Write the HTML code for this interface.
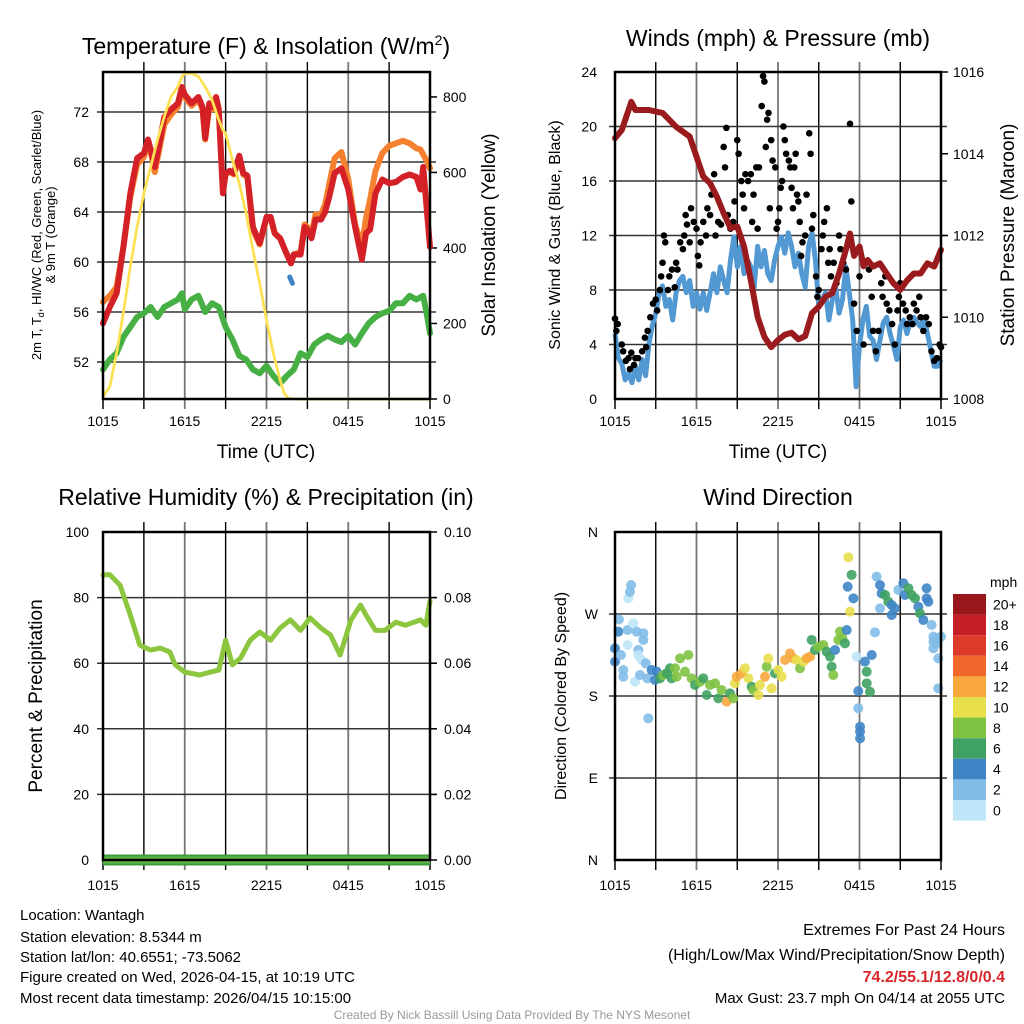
<!DOCTYPE html>
<html><head><meta charset="utf-8">
<style>
html,body{margin:0;padding:0;background:#fff;}
body{width:1024px;height:1024px;overflow:hidden;position:relative;font-family:"Liberation Sans",sans-serif;}
svg{position:absolute;left:0;top:0;}
</style></head>
<body>
<svg id="chart" width="1024" height="1024" viewBox="0 0 1024 1024" xmlns="http://www.w3.org/2000/svg" font-family="Liberation Sans, sans-serif">
<text x="266" y="54" font-size="23" text-anchor="middle">Temperature (F) &amp; Insolation (W/m<tspan dy="-9" font-size="14">2</tspan><tspan dy="9">)</tspan></text>
<text x="778" y="46" font-size="23" text-anchor="middle">Winds (mph) &amp; Pressure (mb)</text>
<text x="266" y="505" font-size="23" text-anchor="middle">Relative Humidity (%) &amp; Precipitation (in)</text>
<text x="778" y="505" font-size="23" text-anchor="middle">Wind Direction</text>

<text x="266" y="458" font-size="19" text-anchor="middle">Time (UTC)</text>
<text x="778" y="458" font-size="19" text-anchor="middle">Time (UTC)</text>

<g font-size="13" text-anchor="middle">
<text transform="translate(41,235) rotate(-90)">2m T, T<tspan dy="3" font-size="9">d</tspan><tspan dy="-3">, HI/WC (Red, Green, Scarlet/Blue)</tspan></text>
<text transform="translate(55,235) rotate(-90)">&amp; 9m T (Orange)</text>
</g>
<text transform="translate(495,235) rotate(-90)" font-size="19" text-anchor="middle">Solar Insolation (Yellow)</text>
<text transform="translate(560,235) rotate(-90)" font-size="16" text-anchor="middle">Sonic Wind &amp; Gust (Blue, Black)</text>
<text transform="translate(1014,235) rotate(-90)" font-size="19" text-anchor="middle">Station Pressure (Maroon)</text>
<text transform="translate(42,696) rotate(-90)" font-size="19" text-anchor="middle">Percent &amp; Precipitation</text>
<text transform="translate(566,696) rotate(-90)" font-size="16" text-anchor="middle">Direction (Colored By Speed)</text>

<g font-size="15">
<text x="20" y="920">Location: Wantagh</text>
<text x="20" y="942">Station elevation: 8.5344 m</text>
<text x="20" y="962">Station lat/lon: 40.6551; -73.5062</text>
<text x="20" y="982">Figure created on Wed, 2026-04-15, at 10:19 UTC</text>
<text x="20" y="1003">Most recent data timestamp: 2026/04/15 10:15:00</text>
</g>
<g font-size="16" text-anchor="end">
<text x="1005" y="935">Extremes For Past 24 Hours</text>
<text x="1005" y="960">(High/Low/Max Wind/Precipitation/Snow Depth)</text>
<text x="1005" y="982" fill="#d7262b" font-weight="bold">74.2/55.1/12.8/0/0.4</text>
<text x="1005" y="1003" font-size="15">Max Gust: 23.7 mph On 04/14 at 2055 UTC</text>
</g>
<text x="512" y="1019" font-size="12" fill="#999" text-anchor="middle">Created By Nick Bassill Using Data Provided By The NYS Mesonet</text>
</svg>
<script>
// ---------- data ----------
const xTickLabels = ["1015","1615","2215","0415","1015"];
const tempHours = [0,0.5,1,1.5,2,2.5,3,3.3,3.5,3.8,4,4.5,5,5.5,5.8,6,6.5,7,7.3,7.5,7.8,8,8.3,8.5,8.8,9,9.3,9.6,10,10.3,10.6,11,11.5,12,12.3,12.6,13,13.5,13.8,14,14.5,14.8,15,15.3,15.6,16,16.3,16.6,17,17.5,18,18.5,19,19.3,19.6,20,20.5,21,21.5,22,22.5,23,23.3,23.5,23.8,24];
const tempRed = [55.1,56.4,57.5,61.2,65.5,68.3,68.7,69.8,69,67.6,68.7,71.6,72.2,72.7,74,73.4,72.7,73.2,72.4,69.9,72.7,72.4,73.2,72.2,65.5,67.1,67.3,67.1,68.5,67.1,66.9,62.8,61.5,63.6,63.6,62.3,61.9,60.6,59.9,60.6,60.6,62.8,62.6,61.9,63.4,63.4,64,65.2,67.1,67.5,65.8,62.8,60.2,62.3,62.6,65.5,66.6,66.3,66.4,66.8,67,66.8,65.8,67.6,63.7,61.2];
const tempOrange = [56.8,57.3,58,61.2,65.2,67.8,68.4,69.5,68.8,67.2,68.3,71.0,71.8,72.4,73.8,73.2,72.5,73.0,72.2,69.8,72.4,72.2,73.0,72.0,65.8,67.0,67.2,67.0,68.3,67.0,66.8,62.6,61.4,63.5,63.6,62.3,61.9,60.6,59.9,60.6,60.8,63.0,62.8,62.2,63.8,63.8,64.6,66.2,68.3,68.8,66.6,63.0,61.3,63.5,65.0,67.3,68.7,69.3,69.5,69.7,69.5,69.1,69.0,68.6,68.0,67.5];
const dewHours = [0,0.5,1,1.5,2,2.5,3,3.5,4,4.5,5,5.5,5.8,6,6.5,7,7.5,8,8.5,9,9.5,10,10.5,11,11.5,12,12.5,13,13.5,14,14.5,15,15.5,16,16.5,17,17.5,18,18.5,19,19.5,20,20.5,21,21.5,22,22.5,23,23.5,23.8,24];
const dewValues = [51.4,52.2,52.7,54,54.8,55.6,55.9,56.4,55.6,56.4,56.7,57,57.5,56.2,57,57.3,56,56.7,56.4,54.8,53.8,52.5,52.2,51.4,51.1,51.7,50.9,50.3,50.9,51.4,52.7,52.4,53.4,53.8,54.1,53.8,53.6,54.1,53.4,54.3,55.1,55.6,55.9,56.1,56.7,56.7,57.3,57,57.3,55.6,54.3];
const heatHours = [13.7,13.9];
const heatValues = [58.8,58.3];
const solarHours = [0,0.5,1,1.5,2,2.5,3,3.5,4,4.5,5,5.5,5.8,6,6.5,7,7.5,8,8.5,8.8,9,9.5,10,10.5,11,11.5,12,12.5,13,13.3,13.6,14,16,18,20,22,24];
const solarValues = [6,33,121,228,350,456,545,615,686,748,801,827,854,863,862,854,827,792,739,712,703,633,571,492,395,306,209,121,50,15,2,0,0,0,0,0,0];
const tempTicks = [52,56,60,64,68,72];
const solarTicks = [0,200,400,600,800];

const pressHours = [0,0.5,1,1.2,1.5,2,2.5,3,3.5,4,4.5,5,5.5,6,6.5,7,7.5,8,8.5,9,9.5,10,10.5,11,11.5,12,12.5,13,13.5,14,14.5,15,15.5,16,16.5,17,17.3,17.6,18,18.3,18.6,19,19.5,20,20.5,21,21.5,22,22.5,23,23.5,24];
const pressValues = [1014.38,1014.58,1015.07,1015.27,1015.07,1015.07,1015.07,1015.03,1015.0,1014.83,1014.66,1014.54,1014.42,1013.93,1013.44,1013.28,1012.95,1012.54,1012.18,1012.22,1011.73,1010.91,1010.01,1009.52,1009.27,1009.44,1009.57,1009.62,1009.46,1009.54,1010.1,1010.26,1010.5,1010.59,1011.07,1011.65,1012.05,1011.5,1011.73,1011.25,1011.4,1011.24,1011.32,1011.07,1010.83,1010.67,1010.9,1011.07,1011.07,1011.32,1011.24,1011.65];
const windHours = [0,0.25,0.5,0.75,1,1.25,1.5,1.75,2,2.25,2.5,2.75,3,3.25,3.5,3.75,4,4.25,4.5,4.75,5,5.25,5.5,5.75,6,6.25,6.5,6.75,7,7.25,7.5,7.75,8,8.25,8.5,8.75,9,9.25,9.5,9.75,10,10.25,10.5,10.75,11,11.25,11.5,11.75,12,12.25,12.5,12.75,13,13.25,13.5,13.75,14,14.25,14.5,14.75,15,15.25,15.5,15.75,16,16.25,16.5,16.75,17,17.25,17.5,17.75,18,18.25,18.5,18.75,19,19.25,19.5,19.75,20,20.25,20.5,20.75,21,21.25,21.5,21.75,22,22.25,22.5,22.75,23,23.25,23.5,23.75,24];
const windValues = [4.8,3.0,2.6,1.4,1.9,1.2,2.4,1.4,2.9,1.7,4.1,5.4,6.3,7.8,8.3,6.8,7.3,5.8,7.8,8.7,9.0,7.8,8.7,6.8,7.8,6.6,7.8,6.5,7.8,9.2,7.8,9.7,8.7,7.8,10.2,11.9,9.7,11.2,9.2,10.2,9.7,8.2,11.2,9.7,10.9,9.2,8.7,10.2,11.2,11.9,10.7,12.2,11.2,9.7,10.7,9.2,8.2,11.2,12.2,10.2,6.8,7.3,7.8,5.8,7.3,8.2,6.3,7.3,9.7,7.8,5.8,0.9,3.9,5.8,6.8,4.6,4.3,2.9,4.3,5.6,6.0,4.8,3.9,2.9,5.3,5.8,4.8,5.8,6.0,5.6,5.3,6.0,4.8,3.6,2.4,2.4,2.9];
const gustHours = [0,0.1,0.2,0.5,0.6,0.8,1,1.1,1.2,1.4,1.5,1.7,2,2.2,2.3,2.4,2.6,2.8,3,3.1,3.3,3.4,3.5,3.6,3.7,3.9,4,4.2,4.4,4.5,4.6,4.8,5,5.1,5.2,5.3,5.5,5.6,5.8,6,6.1,6.2,6.3,6.5,6.7,6.8,7,7.1,7.3,7.4,7.6,7.8,8,8.1,8.2,8.3,8.5,8.7,8.8,9,9.1,9.3,9.4,9.5,9.6,9.8,10,10.1,10.2,10.4,10.5,10.6,10.8,10.9,11,11.1,11.2,11.3,11.4,11.5,11.6,11.8,11.9,12,12.1,12.2,12.3,12.4,12.5,12.6,12.8,12.9,13,13.1,13.2,13.3,13.4,13.5,13.6,13.7,13.8,14,14.1,14.3,14.4,14.5,14.6,14.8,14.9,15,15.2,15.3,15.4,15.6,15.7,15.8,15.9,16.1,16.3,16.5,16.6,16.8,17,17.3,17.4,17.6,17.8,18,18.3,18.5,18.7,18.9,19,19.2,19.4,19.6,19.7,19.9,20,20.2,20.4,20.6,20.8,20.9,21,21.2,21.4,21.5,21.7,21.9,22,22.2,22.4,22.5,22.7,22.9,23.1,23.3,23.5,23.7,23.9,24];
const gustValues = [5.9,5.0,5.5,4.0,3.5,2.8,3.0,2.2,3.4,2.5,3.0,3.0,3.5,4.5,3.8,5.0,6.0,7.0,7.3,6.5,8.0,9.0,10.0,12.0,11.5,8.0,9.0,9.5,8.2,10.0,9.5,11.5,11.0,12.0,13.5,12.8,11.5,14.0,13.0,12.5,10.5,9.8,11.5,13.0,12.0,14.0,13.5,15.0,16.5,12.0,13.0,12.8,18.5,17.0,19.9,13.5,12.5,13.0,14.5,19.0,18.0,16.0,15.0,14.0,16.5,16.0,16.5,13.0,15.0,17.0,12.5,17.0,21.5,23.7,23.3,18.5,20.5,21.0,14.0,19.0,17.5,17.0,12.5,13.0,14.0,15.5,16.0,20.0,19.0,18.0,17.5,17.0,15.5,14.0,17.0,18.0,15.0,14.5,13.0,10.5,11.5,12.0,15.0,19.5,18.0,12.5,13.5,9.0,7.5,8.0,11.0,12.0,13.0,14.0,10.0,11.0,9.0,10.0,8.5,12.0,11.0,10.0,9.5,20.2,14.5,7.0,5.0,9.0,4.0,10.0,9.5,7.5,5.0,3.5,5.0,8.5,7.5,9.0,7.0,6.5,5.5,4.0,6.5,7.5,8.5,7.0,6.5,5.5,6.0,5.5,7.0,6.5,7.5,6.0,5.0,6.0,5.5,3.5,2.8,3.0,4.0,3.8];
const windTicks = [0,4,8,12,16,20,24];
const pressTicks = [1008,1010,1012,1014,1016];

const rhHours = [0,0.5,1.25,2,2.7,3.5,4.2,4.9,5.3,6,7.1,7.9,8.5,9,9.5,10.1,10.8,11.5,12.3,13,13.75,14.5,15.2,16,16.7,17.4,18.2,18.9,19.3,20,20.7,21.5,22.2,23.3,23.7,24];
const rhValues = [86.9,87,83.8,74.7,65.5,64,64.6,63.4,59.5,57.3,56.4,57.3,57.9,67,59.5,61.6,67,69.5,67,70.7,73.2,70,73.8,70.7,68.6,62.5,73.2,77.7,74.7,70,70,72.5,71.6,73.2,71.6,79];
const precipHours = [0,24];
const precipValues = [0,0];
const rhTicks = [0,20,40,60,80,100];
const precipTicks = ["0.00","0.02","0.04","0.06","0.08","0.10"];

const dirHours = [0,0,0.25,0.29,0.44,0.61,0.61,0.93,0.93,0.98,1.18,1.1,1.35,1.47,1.6,1.72,1.72,1.84,1.96,2.09,2.09,2.26,2.4,2.45,2.7,2.94,3.07,3.31,3.56,3.8,4.05,4.17,4.42,4.54,4.79,5.15,5.4,5.64,5.89,6.26,6.5,6.75,6.99,7.36,7.61,7.85,8.22,8.47,8.71,8.83,8.96,9.33,9.57,9.82,10.06,10.18,10.55,10.67,11.04,11.17,11.29,11.53,11.78,12.02,12.27,12.52,12.88,13.13,13.37,13.62,13.87,14.11,14.36,14.48,14.72,14.97,15.34,15.58,15.83,15.95,16.07,16.2,16.44,16.56,16.74,16.93,17.06,17.18,17.3,17.42,17.13,17.55,17.79,17.91,17.91,18.04,18.04,18.04,18.4,18.53,18.53,18.77,18.9,19.14,19.26,19.51,19.51,19.63,19.88,20.12,20.37,20.37,20.61,20.86,21.23,21.35,21.6,21.84,22.09,22.33,22.45,22.7,22.94,22.94,23.07,23.31,23.44,23.44,23.44,23.68,23.68,23.8,23.8,24];
const dirValues = [232.3,217.7,250.6,264.1,225,208.5,201.2,236,252.4,287.2,301.8,294.5,259.8,195.7,250.6,230.5,225,203,219.5,241.5,248.8,215.9,199.4,155.5,208.5,197.6,206.7,199.4,203,204.9,210.4,199.4,210.4,201.2,221.3,206.7,225,199.4,192.1,195.7,199.4,181.1,192.1,193.9,177.4,186.6,173.8,182.9,177.4,193.9,201.2,204.9,210.4,199.4,190.2,186.6,181.1,192.1,201.2,212.2,221.3,188.4,204.9,208.5,201.2,219.5,226.8,221.3,219.5,210.4,217.7,221.3,223.2,241.5,230.5,234.2,236,228.7,223.2,212.2,203,230.5,241.5,250.6,243.3,237.8,252.4,332.2,272.6,313,300,287.2,223.2,185.5,166.5,146.3,133.5,140.9,217.7,206.7,193.9,184.7,225,249.9,311,301.8,276.2,292.7,290.9,283.5,279.9,268.9,276.2,296.4,303.7,290.9,298.2,290.9,287.2,278,270.7,263.4,298.2,287.2,283.5,258,245.1,239.6,232.3,243.3,237.8,188.4,221.3,245.1];
const dirSpeeds = [5,5,5,3,3,3,3,1,3,1,3,3,1,1,3,3,1,3,1,3,3,3,3,3,5,5,5,7,9,7,7,7,9,9,9,9,9,9,7,9,7,7,9,9,7,9,13,7,9,11,13,13,11,11,7,9,11,11,13,9,11,11,7,11,11,13,13,13,11,9,11,13,13,7,7,9,9,7,7,7,9,5,9,9,9,7,5,11,11,7,5,5,1,5,3,5,5,5,5,7,7,7,5,3,3,5,3,5,7,7,5,5,5,3,5,5,7,7,7,5,7,5,5,5,5,3,3,3,3,3,3,3,3,3];
const dirTickLabels = ["N","E","S","W","N"];
const speedBinLabels = ["0","2","4","6","8","10","12","14","16","18","20+"];
const speedBinColors = ["#bfe6f8","#82bde8","#3f86c7","#3fa262","#7fc241","#e8df4d","#f8a83d","#f0682c","#dd3b2a","#c41e26","#99161a"];

// ---------- drawing ----------
const NS = "http://www.w3.org/2000/svg";
const svg = document.getElementById("chart");
function el(tag, attrs, parent) {
  const e = document.createElementNS(NS, tag);
  for (const k in attrs) e.setAttribute(k, attrs[k]);
  (parent || svg).appendChild(e);
  return e;
}
function txt(s, attrs, parent) { const t = el("text", attrs, parent); t.textContent = s; return t; }

const panels = {
  temp: {x0:103, x1:430, y0:72, y1:399},
  wind: {x0:615, x1:941, y0:72, y1:399},
  rh:   {x0:103, x1:430, y0:532, y1:860},
  dir:  {x0:615, x1:941, y0:532, y1:860}
};
function xScale(p) { return h => p.x0 + h * (p.x1 - p.x0) / 24; }
function linScale(p, lo, hi) { return v => p.y1 - (v - lo) * (p.y1 - p.y0) / (hi - lo); }

const xT = xScale(panels.temp), xW = xScale(panels.wind), xR = xScale(panels.rh), xD = xScale(panels.dir);
const yTemp = linScale(panels.temp, 49.04, 75.2);
const ySolar = linScale(panels.temp, 0, 866);
const yWind = linScale(panels.wind, 0, 24);
const yPress = linScale(panels.wind, 1008, 1016);
const yRH = linScale(panels.rh, 0, 100);
const yPrecip = linScale(panels.rh, 0, 0.1);
const yDir = linScale(panels.dir, 0, 360);

function frame(p, name, hLines) {
  const g = el("g", {});
  
  
  for (let i = 1; i < 8; i++) {
    const x = p.x0 + i * (p.x1 - p.x0) / 8;
    el("line", {x1:x, x2:x, y1:p.y0 - 10, y2:p.y1 + 10, stroke:(i % 2 ? "#000" : "#777"), "stroke-width":(i % 2 ? 1.4 : 1.8)}, g);
  }
  hLines.forEach(y => el("line", {x1:p.x0 - 6, x2:p.x1 + 6, y1:y, y2:y, stroke:"#333", "stroke-width":1.5}, g));
  [p.x0, p.x1].forEach(x => el("line", {x1:x, x2:x, y1:p.y1, y2:p.y1 + 10, stroke:"#000", "stroke-width":1.5}, g));
  return g;
}
function border(p, name) {
  const r = el("rect", {x:p.x0, y:p.y0, width:p.x1 - p.x0, height:p.y1 - p.y0, fill:"none", stroke:"#000", "stroke-width":2.5});
  
  
}
function xLabels(p, xs, y, name) {
  const g = el("g", {"font-size":14, "text-anchor":"middle"});
  
  
  xTickLabels.forEach((s, i) => txt(s, {x:xs(i * 6), y:y}, g));
}
function linePath(xs, ys, hours, vals) {
  return hours.map((h, i) => (i ? "L" : "M") + xs(h).toFixed(1) + "," + ys(vals[i]).toFixed(1)).join("");
}

// ---- panel 1 ----
frame(panels.temp, "temp", tempTicks.map(yTemp));
{
  const g = el("g", {"font-size":14, "text-anchor":"end"});
  
  
  tempTicks.forEach(v => txt(String(v), {x:89, y:yTemp(v) + 5}, g));
  const g2 = el("g", {"font-size":14, "text-anchor":"start"});
  
  
  solarTicks.forEach(v => { txt(String(v), {x:443, y:ySolar(v) + 5}, g2); el("line", {x1:430, x2:437, y1:ySolar(v), y2:ySolar(v), stroke:"#000", "stroke-width":1.5}, g2); });
}
const dewLine = el("path", {d:linePath(xT, yTemp, dewHours, dewValues), fill:"none", stroke:"#47b045", "stroke-width":6, "stroke-linejoin":"round", "stroke-linecap":"round"});


const orangeLine = el("path", {d:linePath(xT, yTemp, tempHours, tempOrange), fill:"none", stroke:"#f58130", "stroke-width":6, "stroke-linejoin":"round", "stroke-linecap":"round"});


const redLine = el("path", {d:linePath(xT, yTemp, tempHours, tempRed), fill:"none", stroke:"#d42027", "stroke-width":6, "stroke-linejoin":"round", "stroke-linecap":"round"});


const heatLine = el("path", {d:linePath(xT, yTemp, heatHours, heatValues), fill:"none", stroke:"#3d85c6", "stroke-width":5, "stroke-linecap":"round"});


const solarLine = el("path", {d:linePath(xT, ySolar, solarHours, solarValues), fill:"none", stroke:"#fde154", "stroke-width":2.8, "stroke-linejoin":"round"});


border(panels.temp, "temp");
xLabels(panels.temp, xT, 426, "temp");

// ---- panel 2 ----
frame(panels.wind, "wind", windTicks.slice(1, 6).map(yWind));
{
  const g = el("g", {"font-size":14, "text-anchor":"end"});
  
  
  windTicks.forEach(v => txt(String(v), {x:597, y:yWind(v) + 5}, g));
  const g2 = el("g", {"font-size":14, "text-anchor":"start"});
  
  
  pressTicks.forEach(v => { txt(String(v), {x:953, y:yPress(v) + 5}, g2); el("line", {x1:941, x2:948, y1:yPress(v), y2:yPress(v), stroke:"#000", "stroke-width":1.5}, g2); });
}
const windLine = el("path", {d:linePath(xW, yWind, windHours, windValues), fill:"none", stroke:"#5299d3", "stroke-width":5, "stroke-linejoin":"round"});


{
  const g = el("g", {fill:"#000"});
  
  
  gustHours.forEach((h, i) => {
    const c = el("circle", {cx:xW(h), cy:yWind(gustValues[i]), r:3.3}, g);
    
    
  });
}
const pressLine = el("path", {d:linePath(xW, yPress, pressHours, pressValues), fill:"none", stroke:"#9a1b1e", "stroke-width":6, "stroke-linejoin":"round", "stroke-linecap":"round"});


border(panels.wind, "wind");
xLabels(panels.wind, xW, 426, "wind");

// ---- panel 3 ----
frame(panels.rh, "rh", rhTicks.slice(1, 5).map(yRH));
{
  const g = el("g", {"font-size":14, "text-anchor":"end"});
  
  
  rhTicks.forEach(v => txt(String(v), {x:89, y:yRH(v) + 5}, g));
  const g2 = el("g", {"font-size":14, "text-anchor":"start"});
  
  
  precipTicks.forEach(s => { const v = parseFloat(s); txt(s, {x:444, y:yPrecip(v) + 5}, g2); el("line", {x1:430, x2:437, y1:yPrecip(v), y2:yPrecip(v), stroke:"#000", "stroke-width":1.5}, g2); });
}
const rhLine = el("path", {d:linePath(xR, yRH, rhHours, rhValues), fill:"none", stroke:"#8cc63f", "stroke-width":5, "stroke-linejoin":"round", "stroke-linecap":"round"});


const precipBase = el("path", {d:linePath(xR, yPrecip, precipHours, precipValues), fill:"none", stroke:"#3c9a3a", "stroke-width":11});


const precipLine = el("path", {d:linePath(xR, yPrecip, precipHours, precipValues), fill:"none", stroke:"#5cb84a", "stroke-width":7});


border(panels.rh, "rh");
xLabels(panels.rh, xR, 890, "rh");

// ---- panel 4 ----
frame(panels.dir, "dir", [90, 180, 270].map(yDir));
{
  const g = el("g", {"font-size":14, "text-anchor":"end"});
  
  
  dirTickLabels.forEach((s, i) => txt(s, {x:598, y:yDir(i * 90) + 5}, g));
  const g2 = el("g", {});
  
  
  dirHours.forEach((h, i) => {
    const bin = Math.min(10, Math.floor(dirSpeeds[i] / 2));
    const c = el("circle", {cx:xD(h), cy:yDir(dirValues[i]), r:5, fill:speedBinColors[bin], "fill-opacity":0.9}, g2);
    
    
  });
}
border(panels.dir, "dir");
xLabels(panels.dir, xD, 890, "dir");
{
  const g = el("g", {"font-size":14});
  
  
  txt("mph", {x:990, y:587}, g);
  const top = 594, bh = 20.6;
  speedBinColors.slice().reverse().forEach((c, i) => {
    const r = el("rect", {x:953, y:top + i * bh, width:33, height:bh, fill:c}, g);
    
    
    txt(speedBinLabels[10 - i], {x:993, y:top + i * bh + bh / 2 + 5}, g);
  });
}
</script>
</body></html>
